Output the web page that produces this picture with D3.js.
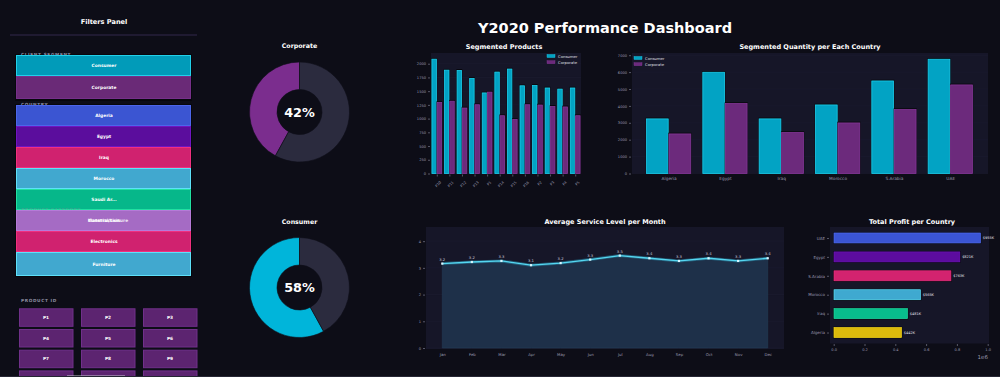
<!DOCTYPE html>
<html><head><meta charset="utf-8">
<script src="https://cdn.jsdelivr.net/npm/d3@7"></script>
<style>
html,body{margin:0;padding:0;background:#0d0d17;overflow:hidden;}
svg{display:block;font-family:"DejaVu Sans",sans-serif;}
</style></head>
<body><svg id="c" width="1000" height="377"></svg>
<script>
// ---------------- DATA ----------------
const clientSegments = ["Consumer","Corporate"];
const filterCountries = ["Algeria","Egypt","Iraq","Morocco","Saudi Ar..."];
const productCategories = ["Construction","Electronics","Furniture"];
const productIds = ["P1","P2","P3","P4","P5","P6","P7","P8","P9","P10","P11","P12"];

const segments = ["Corporate","Consumer"];
const segmentPct = [42, 58];

const products = ["P10","P11","P12","P13","P1","P14","P15","P16","P2","P3","P4","P5"];
const prodConsumer = [2090,1890,1885,1740,1475,1855,1910,1605,1610,1565,1545,1565];
const prodCorporate = [1300,1325,1200,1260,1490,1060,990,1260,1255,1230,1220,1060];
const prodTicks = [0,250,500,750,1000,1250,1500,1750,2000];

const countries = ["Algeria","Egypt","Iraq","Morocco","S.Arabia","UAE"];
const qtyConsumer = [3255,6015,3255,4080,5500,6785];
const qtyCorporate = [2365,4160,2445,3015,3805,5265];
const qtyTicks = [0,1000,2000,3000,4000,5000,6000,7000];

const months = ["Jan","Feb","Mar","Apr","May","Jun","Jul","Aug","Sep","Oct","Nov","Dec"];
const serviceLevel = [3.16,3.22,3.26,3.1,3.18,3.31,3.46,3.36,3.26,3.36,3.26,3.36];
const serviceTicks = [0,1,2,3,4];

const profitCountries = ["UAE","Egypt","S.Arabia","Morocco","Iraq","Algeria"];
const profitValues = [955000,821000,763000,565000,481000,442000];
const profitTicks = [0,200000,400000,600000,800000,1000000];

// ---------------- STYLE ----------------
const BG="#0d0d17", PLOT="#161628", TXT="#9a9ab0";
const CONS="#02a3c4", CONS_E="#1ccfee", CORP="#6c2a7c", CORP_E="#86379a";
const svg = d3.select("#c");
svg.append("rect").attr("width",1000).attr("height",377).attr("fill",BG);

svg.append("text").attr("x",605).attr("y",33).attr("text-anchor","middle")
  .attr("fill","#fff").attr("font-weight","bold").attr("font-size",14.5)
  .text("Y2020 Performance Dashboard");

// ---------------- FILTER PANEL ----------------
const fp = svg.append("g");
fp.append("text").attr("x",104).attr("y",24).attr("text-anchor","middle").attr("fill","#fff")
  .attr("font-weight","bold").attr("font-size",6.6).text("Filters Panel");
fp.append("line").attr("x1",10).attr("x2",197).attr("y1",35).attr("y2",35)
  .attr("stroke","#33284c").attr("stroke-width",1);

function label(t,x,y,op){
  fp.append("text").attr("x",x).attr("y",y).attr("fill","#8c8ca0").attr("opacity",op||1)
    .attr("font-weight","bold").attr("font-size",4.3).attr("letter-spacing",0.6).text(t);
}
function button(t,y,h,fill,edge){
  fp.append("rect").attr("x",16.5).attr("y",y+0.5).attr("width",174).attr("height",h-1)
    .attr("fill",fill).attr("stroke",edge).attr("stroke-width",1);
  fp.append("text").attr("x",104).attr("y",y+h/2+1.6).attr("text-anchor","middle")
    .attr("fill","#fff").attr("font-weight","bold").attr("font-size",4.4).text(t);
}
fp.append("rect").attr("x",15).attr("y",54).attr("width",177).attr("height",47).attr("fill","#07070d");
label("CLIENT SEGMENT",21,56.3);
const segFill=[["#019bb9","#22d0ea"],["#6a2a77","#76308a"]];
const segY=[55,76], segH=[21,23];
clientSegments.forEach((s,i)=>button(s,segY[i],segH[i],segFill[i][0],segFill[i][1]));

fp.append("rect").attr("x",15).attr("y",104).attr("width",177).attr("height",173).attr("fill","#07070d");
label("COUNTRY",21,106.3);
const ctyFill=[["#3b55d2","#4c66ea"],["#5b0d9d","#7015c2"],["#d0226f","#f0307f"],["#41a8cf","#5ee0fa"],["#06b78a","#22e0a2"]];
filterCountries.forEach((c,i)=>button(c,105+i*21,21,ctyFill[i][0],ctyFill[i][1]));
label("PRODUCT CATEGORY",21,211,0.35);
const catFill=[["#a56bc4","#b67ad8"],["#d0226f","#f0307f"],["#41a8cf","#5ee0fa"]];
const catY=[210,231,252], catH=[21,21,24];
productCategories.forEach((c,i)=>button(c,catY[i],catH[i],catFill[i][0],catFill[i][1]));
fp.append("text").attr("x",108).attr("y",222.2).attr("text-anchor","middle")
  .attr("fill","#fff").attr("font-weight","bold").attr("font-size",4.4).attr("opacity",0.85).text("Material/Leisure");

label("PRODUCT ID",21,301.5);
const colX=[19,81,143];
productIds.forEach((p,i)=>{
  const cx=colX[i%3], cy=308.3+Math.floor(i/3)*20.7;
  fp.append("rect").attr("x",cx+0.5).attr("y",cy+0.5).attr("width",53.5).attr("height",17.5)
    .attr("fill","#5c2470").attr("stroke","#70308a").attr("stroke-width",1);
  if (cy+10.5 < 372)
    fp.append("text").attr("x",cx+27).attr("y",cy+10.5).attr("text-anchor","middle")
      .attr("fill","#fff").attr("font-weight","bold").attr("font-size",4.3).text(p);
});
fp.append("rect").attr("x",67).attr("y",375.5).attr("width",58).attr("height",2).attr("fill","#c8c8d2");
svg.append("line").attr("x1",0).attr("x2",1000).attr("y1",376.5).attr("y2",376.5).attr("stroke","#262634").attr("stroke-width",1);

// ---------------- DONUTS ----------------
function donut(title,pct,cx,cy,ty,color){
  const g=svg.append("g").attr("transform",`translate(${cx},${cy})`);
  svg.append("text").attr("x",cx).attr("y",ty).attr("text-anchor","middle").attr("fill","#fff")
    .attr("font-weight","bold").attr("font-size",6.3).text(title);
  const pie=d3.pie().sort(null).startAngle(0).endAngle(-2*Math.PI);
  const arcs=pie([pct,100-pct]);
  const arc=d3.arc().innerRadius(22.5).outerRadius(50);
  g.selectAll("path").data(arcs).enter().append("path").attr("d",arc)
    .attr("fill",(d,i)=>i===0?color:"#2b2b3e").attr("stroke",BG).attr("stroke-width",0.6);
  g.append("text").attr("y",4.8).attr("text-anchor","middle").attr("fill","#fff")
    .attr("font-weight","bold").attr("font-size",12.8).text(pct+"%");
}
donut(segments[0],segmentPct[0],299.5,112,48,"#7b2d8e");
donut(segments[1],segmentPct[1],299.5,287.5,224,"#00b5da");

// ---------------- helpers ----------------
function plotBg(x0,y0,x1,y1){
  svg.append("rect").attr("x",x0).attr("y",y0).attr("width",x1-x0).attr("height",y1-y0).attr("fill",PLOT);
}
function styleAxis(g){
  g.select(".domain").remove();
  g.selectAll(".tick line").attr("stroke","#8a8aa0").attr("stroke-width",0.6);
  g.selectAll(".tick text").attr("fill",TXT).attr("font-size",3.6).attr("font-family","DejaVu Sans");
}
function title(t,x,y){
  svg.append("text").attr("x",x).attr("y",y).attr("text-anchor","middle").attr("fill","#fff")
    .attr("font-weight","bold").attr("font-size",6.5).text(t);
}
function gbar(x,y,w,h,fill,edge){
  svg.append("rect").attr("x",x-0.3).attr("y",y-0.8).attr("width",w+0.6).attr("height",h+0.8).attr("fill","#050508");
  svg.append("rect").attr("x",x+0.4).attr("y",y+0.4).attr("width",Math.max(0,w-0.8)).attr("height",Math.max(0,h-0.4))
    .attr("fill",fill).attr("stroke",edge).attr("stroke-width",0.8);
}
function legend(x,y){
  [["Consumer",CONS,CONS_E],["Corporate",CORP,CORP_E]].forEach((d,i)=>{
    svg.append("rect").attr("x",x).attr("y",y+i*6.2).attr("width",8).attr("height",3).attr("fill",d[1]).attr("stroke",d[2]).attr("stroke-width",0.4);
    svg.append("text").attr("x",x+11).attr("y",y+i*6.2+3).attr("fill","#e0e0ea").attr("font-size",3.8).text(d[0]);
  });
}
const fmtInt=d3.format("d");

// ---------------- SEGMENTED PRODUCTS ----------------
{
  const x0=431,x1=581,y0=53,y1=173.5;
  plotBg(x0,y0,x1,y1);
  title("Segmented Products",504,48.5);
  const x=d3.scaleLinear().domain([-0.46,11.46]).range([x0,x1]);
  const y=d3.scaleLinear().domain([0,2195]).range([y1,y0]);
  prodTicks.forEach(t=>svg.append("line").attr("x1",x0).attr("x2",x1).attr("y1",y(t)).attr("y2",y(t)).attr("stroke","#1f1f35").attr("stroke-width",0.4));
  const w=x(0.42)-x(0);
  products.forEach((p,i)=>{
    gbar(x(i)-w,y(prodConsumer[i]),w,y(0)-y(prodConsumer[i]),CONS,CONS_E);
    gbar(x(i),y(prodCorporate[i]),w,y(0)-y(prodCorporate[i]),CORP,CORP_E);
  });
  const ya=svg.append("g").attr("transform",`translate(${x0-1},0)`).call(d3.axisLeft(y).tickValues(prodTicks).tickFormat(fmtInt).tickSize(2).tickPadding(2));
  styleAxis(ya);
  const xa=svg.append("g").attr("transform",`translate(0,${y1+1})`).call(d3.axisBottom(x).tickValues(d3.range(products.length)).tickFormat(i=>products[i]).tickSize(2).tickPadding(1));
  styleAxis(xa);
  xa.selectAll(".tick text").attr("text-anchor","end").attr("dy",0).attr("transform","translate(2,6) rotate(-45)");
  legend(547,54.5);
}

// ---------------- SEGMENTED QUANTITY ----------------
{
  const x0=632,x1=988,y0=53,y1=173.5;
  plotBg(x0,y0,x1,y1);
  title("Segmented Quantity per Each Country",810,48.5);
  const x=d3.scaleLinear().domain([-0.65,5.67]).range([x0,x1]);
  const y=d3.scaleLinear().domain([0,7130]).range([y1,y0]);
  qtyTicks.forEach(t=>svg.append("line").attr("x1",x0).attr("x2",x1).attr("y1",y(t)).attr("y2",y(t)).attr("stroke","#1f1f35").attr("stroke-width",0.4));
  const w=x(0.4)-x(0);
  countries.forEach((c,i)=>{
    gbar(x(i)-w,y(qtyConsumer[i]),w,y(0)-y(qtyConsumer[i]),CONS,CONS_E);
    gbar(x(i),y(qtyCorporate[i]),w,y(0)-y(qtyCorporate[i]),CORP,CORP_E);
  });
  const ya=svg.append("g").attr("transform",`translate(${x0-1},0)`).call(d3.axisLeft(y).tickValues(qtyTicks).tickFormat(fmtInt).tickSize(2).tickPadding(2));
  styleAxis(ya);
  const xa=svg.append("g").attr("transform",`translate(0,${y1})`).call(d3.axisBottom(x).tickValues(d3.range(countries.length)).tickFormat(i=>countries[i]).tickSize(0).tickPadding(3));
  styleAxis(xa);
  xa.selectAll(".tick text").attr("font-size",4.3);
  legend(634,56.5);
}

// ---------------- AVERAGE SERVICE LEVEL ----------------
{
  const x0=426,x1=784,y0=227,y1=349;
  plotBg(x0,y0,x1,y1);
  title("Average Service Level per Month",605,224);
  const x=d3.scaleLinear().domain([-0.55,11.55]).range([x0,x1]);
  const y=d3.scaleLinear().domain([0,4.53]).range([348,y0]);
  serviceTicks.forEach(t=>svg.append("line").attr("x1",x0).attr("x2",x1).attr("y1",y(t)).attr("y2",y(t)).attr("stroke","#1f1f35").attr("stroke-width",0.4));
  const area=d3.area().x((d,i)=>x(i)).y0(y(0)).y1(d=>y(d));
  svg.append("path").datum(serviceLevel).attr("d",area).attr("fill","#1e3049").attr("stroke","#26405a").attr("stroke-width",0.5);
  const line=d3.line().x((d,i)=>x(i)).y(d=>y(d));
  svg.append("path").datum(serviceLevel).attr("d",line).attr("fill","none").attr("stroke","#2a8fb0").attr("stroke-width",3).attr("opacity",0.5);
  svg.append("path").datum(serviceLevel).attr("d",line).attr("fill","none").attr("stroke","#55d6f0").attr("stroke-width",1.3);
  serviceLevel.forEach((v,i)=>{
    svg.append("rect").attr("x",x(i)-1.1).attr("y",y(v)-1.1).attr("width",2.2).attr("height",2.2).attr("fill","#d8f6ff");
    svg.append("text").attr("x",x(i)).attr("y",y(v)-3).attr("text-anchor","middle").attr("fill","#c8c8d8")
      .attr("font-size",3.8).text(v.toFixed(1));
  });
  const ya=svg.append("g").attr("transform",`translate(${x0-1},0)`).call(d3.axisLeft(y).tickValues(serviceTicks).tickFormat(fmtInt).tickSize(2).tickPadding(2));
  styleAxis(ya);
  const xa=svg.append("g").attr("transform",`translate(0,${348})`).call(d3.axisBottom(x).tickValues(d3.range(12)).tickFormat(i=>months[i]).tickSize(0).tickPadding(5));
  styleAxis(xa);
  xa.selectAll(".tick text").attr("font-size",3.9);
}

// ---------------- TOTAL PROFIT ----------------
{
  const x0=830,x1=989,y0=227,y1=343.5;
  plotBg(x0,y0,x1,y1);
  title("Total Profit per Country",912,224);
  const x=d3.scaleLinear().domain([0,1000000]).range([833.7,987.7]);
  const y=d3.scaleLinear().domain([-0.58,5.58]).range([y0,y1]);
  const pFill=[["#3b55d4","#4f6cf0"],["#5c0c9e","#6e14bc"],["#d3236f","#ea2f80"],["#3fa9d0","#5ce0fa"],["#08bd8c","#1fd8a0"],["#dcba0c","#f5d81a"]];
  const h=y(0.28)-y(-0.28);
  profitCountries.forEach((c,i)=>{
    const yy=y(i)-h/2, w=x(profitValues[i])-x(0);
    svg.append("rect").attr("x",x(0)-0.5).attr("y",yy-0.5).attr("width",w+1).attr("height",h+1).attr("fill","#050508");
    svg.append("rect").attr("x",x(0)+0.3).attr("y",yy+0.3).attr("width",w-0.6).attr("height",h-0.6)
      .attr("fill",pFill[i][0]).attr("stroke",pFill[i][1]).attr("stroke-width",0.7);
    svg.append("text").attr("x",x(profitValues[i])+2).attr("y",y(i)+1.3).attr("fill","#e8e8f0")
      .attr("font-size",3.5).text("$"+Math.round(profitValues[i]/1000)+"K");
  });
  const ya=svg.append("g").attr("transform",`translate(${x0-1},0)`).call(d3.axisLeft(y).tickValues(d3.range(6)).tickFormat(i=>profitCountries[i]).tickSize(2).tickPadding(2));
  styleAxis(ya);
  ya.selectAll(".tick text").attr("font-size",4);
  const xa=svg.append("g").attr("transform",`translate(0,${y1+0.5})`).call(d3.axisBottom(x).tickValues(profitTicks).tickFormat(d=>(d/1e6).toFixed(1)).tickSize(2).tickPadding(2));
  styleAxis(xa);
  svg.append("text").attr("x",988).attr("y",359).attr("text-anchor","end").attr("fill",TXT).attr("font-size",5.5).text("1e6");
}
</script></body></html>
